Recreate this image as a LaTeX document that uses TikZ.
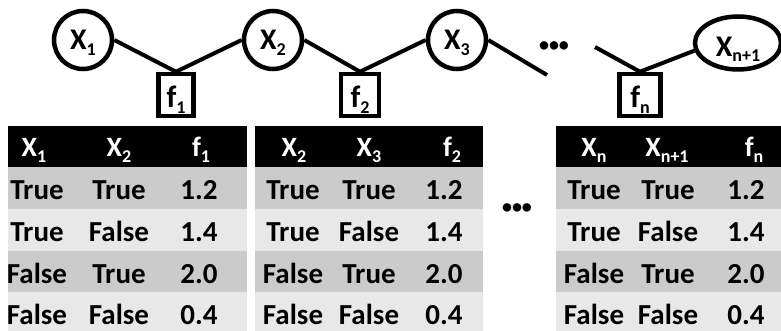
\documentclass[tikz,border=0pt]{standalone}
\usepackage{fontspec}
\setmainfont{Carlito}
\usetikzlibrary{shapes.geometric}
\definecolor{rowdark}{RGB}{203,203,203}
\definecolor{rowlight}{RGB}{232,232,232}
\newcommand{\nsb}[1]{\raisebox{-5.5pt}{\fontsize{18}{18}\selectfont #1}}
\begin{document}
\begin{tikzpicture}[x=1pt,y=-1pt,
  var/.style={circle,draw,line width=4.5pt,minimum size=58pt,inner sep=0pt,text height=20pt,text depth=0pt,font=\fontsize{30}{30}\selectfont\bfseries},
  varell/.style={ellipse,draw,line width=4.5pt,minimum width=86pt,minimum height=53pt,inner sep=0pt,text height=27pt,text depth=0pt,font=\fontsize{30}{30}\selectfont\bfseries},
  fac/.style={rectangle,draw,line width=4.5pt,minimum height=42pt,inner sep=0pt,text height=26pt,text depth=0pt,font=\fontsize{31}{31}\selectfont\bfseries},
  edge/.style={line width=4pt},
  dots/.style={font=\fontsize{20}{20}\selectfont\bfseries,inner sep=0pt},
  hd/.style={anchor=base,text=white,inner sep=0pt,font=\fontsize{28}{28}\selectfont\bfseries},
  cell/.style={anchor=base,inner sep=0pt,font=\fontsize{29}{29}\selectfont\bfseries},
]
\useasboundingbox (0,0) rectangle (781,331);
% top factor graph
\node[var] (X1) at (83,40) {X\nsb{1}};
\node[var] (X2) at (273,40) {X\nsb{2}};
\node[var] (X3) at (457,40) {X\nsb{3}};
\node[varell] (Xn1) at (738,43) {X\nsb{n+1}};
\node[fac,minimum width=35pt] (f1) at (176,95) {f\nsb{1}};
\node[fac,minimum width=38pt] (f2) at (360,95) {f\nsb{2}};
\node[fac,minimum width=41pt] (fn) at (640,95) {f\nsb{n}};
\coordinate (e3) at (547,75);
\coordinate (sn) at (595,47);
\node[dots] (dtop) at (554,47) {•••};
\draw[edge] (X1.east) -- (f1.north);
\draw[edge] (X2.west) -- (f1.north);
\draw[edge] (X2.east) -- (f2.north);
\draw[edge] (X3.west) -- (f2.north);
\draw[edge] (X3.east) -- (e3);
\draw[edge] (sn) -- (fn.north);
\draw[edge] (fn.north) -- (Xn1.190);
% tables
\foreach \t/\l/\r/\a/\b/\c/\ha/\hb/\hc/\hax/\hbx/\hcx in {
  1/8/247/37/119/199/{X\nsb{1}}/{X\nsb{2}}/{f\nsb{1}}/34/119/201,
  2/255/483/293/369/444/{X\nsb{2}}/{X\nsb{3}}/{f\nsb{2}}/294/369/452,
  3/556/781/594/668/746/{X\nsb{n}}/{X\nsb{n+1}}/{f\nsb{n}}/594/667/754}{
  \fill[black] (\l,126) rectangle (\r,167);
  \fill[rowdark] (\l,167) rectangle (\r,209);
  \fill[rowlight] (\l,209) rectangle (\r,251);
  \fill[rowdark] (\l,251) rectangle (\r,292);
  \fill[rowlight] (\l,292) rectangle (\r,331);
  \node[hd] (h\t a) at (\hax,157) {\ha};
  \node[hd] (h\t b) at (\hbx,157) {\hb};
  \node[hd] (h\t c) at (\hcx,157) {\hc};
  \node[cell] (r\t a1) at (\a,199) {True};
  \node[cell] (r\t b1) at (\b,199) {True};
  \node[cell] (r\t c1) at (\c,199) {1.2};
  \node[cell] (r\t a2) at (\a,241) {True};
  \node[cell] (r\t b2) at (\b,241) {False};
  \node[cell] (r\t c2) at (\c,241) {1.4};
  \node[cell] (r\t a3) at (\a,283) {False};
  \node[cell] (r\t b3) at (\b,283) {True};
  \node[cell] (r\t c3) at (\c,283) {2.0};
  \node[cell] (r\t a4) at (\a,324) {False};
  \node[cell] (r\t b4) at (\b,324) {False};
  \node[cell] (r\t c4) at (\c,324) {0.4};
}
\node[dots] (dmid) at (517,209) {•••};
\end{tikzpicture}
\end{document}
